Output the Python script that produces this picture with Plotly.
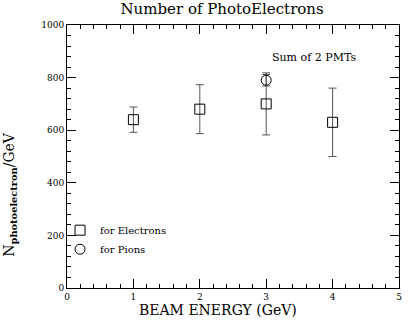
import plotly.graph_objects as go

# electron data (sum of 2 PMTs)
energy_e = [1, 2, 3, 4]
npe_e = [640, 680, 700, 630]
err_e = [48, 93, 118, 130]

# pion data
energy_pi = [3]
npe_pi = [790]
err_pi = [22]

FONT = "DejaVu Serif"

fig = go.Figure()

fig.add_trace(
    go.Scatter(
        x=energy_e,
        y=npe_e,
        mode="markers",
        name="for Electrons",
        marker=dict(symbol="square-open", size=10, color="black", line=dict(width=1)),
        error_y=dict(type="data", array=err_e, color="#555555", thickness=1, width=4),
    )
)

fig.add_trace(
    go.Scatter(
        x=energy_pi,
        y=npe_pi,
        mode="markers",
        name="for Pions",
        marker=dict(symbol="circle-open", size=10, color="black", line=dict(width=1)),
        error_y=dict(type="data", array=err_pi, color="#555555", thickness=1, width=4),
    )
)

fig.add_annotation(
    x=3.72, y=875, text="Sum of 2 PMTs", showarrow=False,
    font=dict(family=FONT, size=11, color="black"),
)

# axis titles placed as annotations to match the off-centre layout
fig.add_annotation(
    xref="paper", yref="paper", x=0.454, y=-0.082,
    text="BEAM ENERGY (GeV)", showarrow=False,
    xanchor="center", yanchor="middle",
    font=dict(family=FONT, size=14, color="black"),
)
fig.add_annotation(
    xref="paper", yref="paper", x=-0.17, y=0.357,
    text="N<sub><b>photoelectron</b></sub>/GeV", showarrow=False,
    textangle=-90, xanchor="center", yanchor="middle",
    font=dict(family=FONT, size=14, color="black"),
)

axis_common = dict(
    showgrid=False,
    zeroline=False,
    showline=True,
    linecolor="black",
    linewidth=1,
    mirror="ticks",
    ticks="inside",
    ticklen=9,
    tickcolor="black",
    tickfont=dict(family=FONT, size=9, color="black"),
)

fig.update_layout(
    width=409,
    height=325,
    margin=dict(l=67, r=7, t=25, b=37),
    paper_bgcolor="white",
    plot_bgcolor="white",
    title=dict(
        text="Number of PhotoElectrons",
        x=0.543, xanchor="center", y=0.972, yanchor="middle",
        font=dict(family=FONT, size=15, color="black"),
    ),
    xaxis=dict(
        range=[0, 5],
        dtick=1,
        minor=dict(dtick=0.2, ticks="inside", ticklen=4, tickcolor="black"),
        **axis_common,
    ),
    yaxis=dict(
        range=[0, 1000],
        dtick=200,
        minor=dict(dtick=40, ticks="inside", ticklen=4, tickcolor="black"),
        **axis_common,
    ),
    showlegend=True,
    legend=dict(
        x=-0.021, y=0.275, xanchor="left", yanchor="top",
        bgcolor="rgba(0,0,0,0)",
        font=dict(family=FONT, size=10, color="black"),
        itemwidth=30,
        tracegroupgap=0,
    ),
)

# drop the browser's default body margin so the figure sits at the window corner
fig.write_html(
    "out.html",
    config={"displayModeBar": False},
    post_script="document.body.style.margin='0px';",
)
